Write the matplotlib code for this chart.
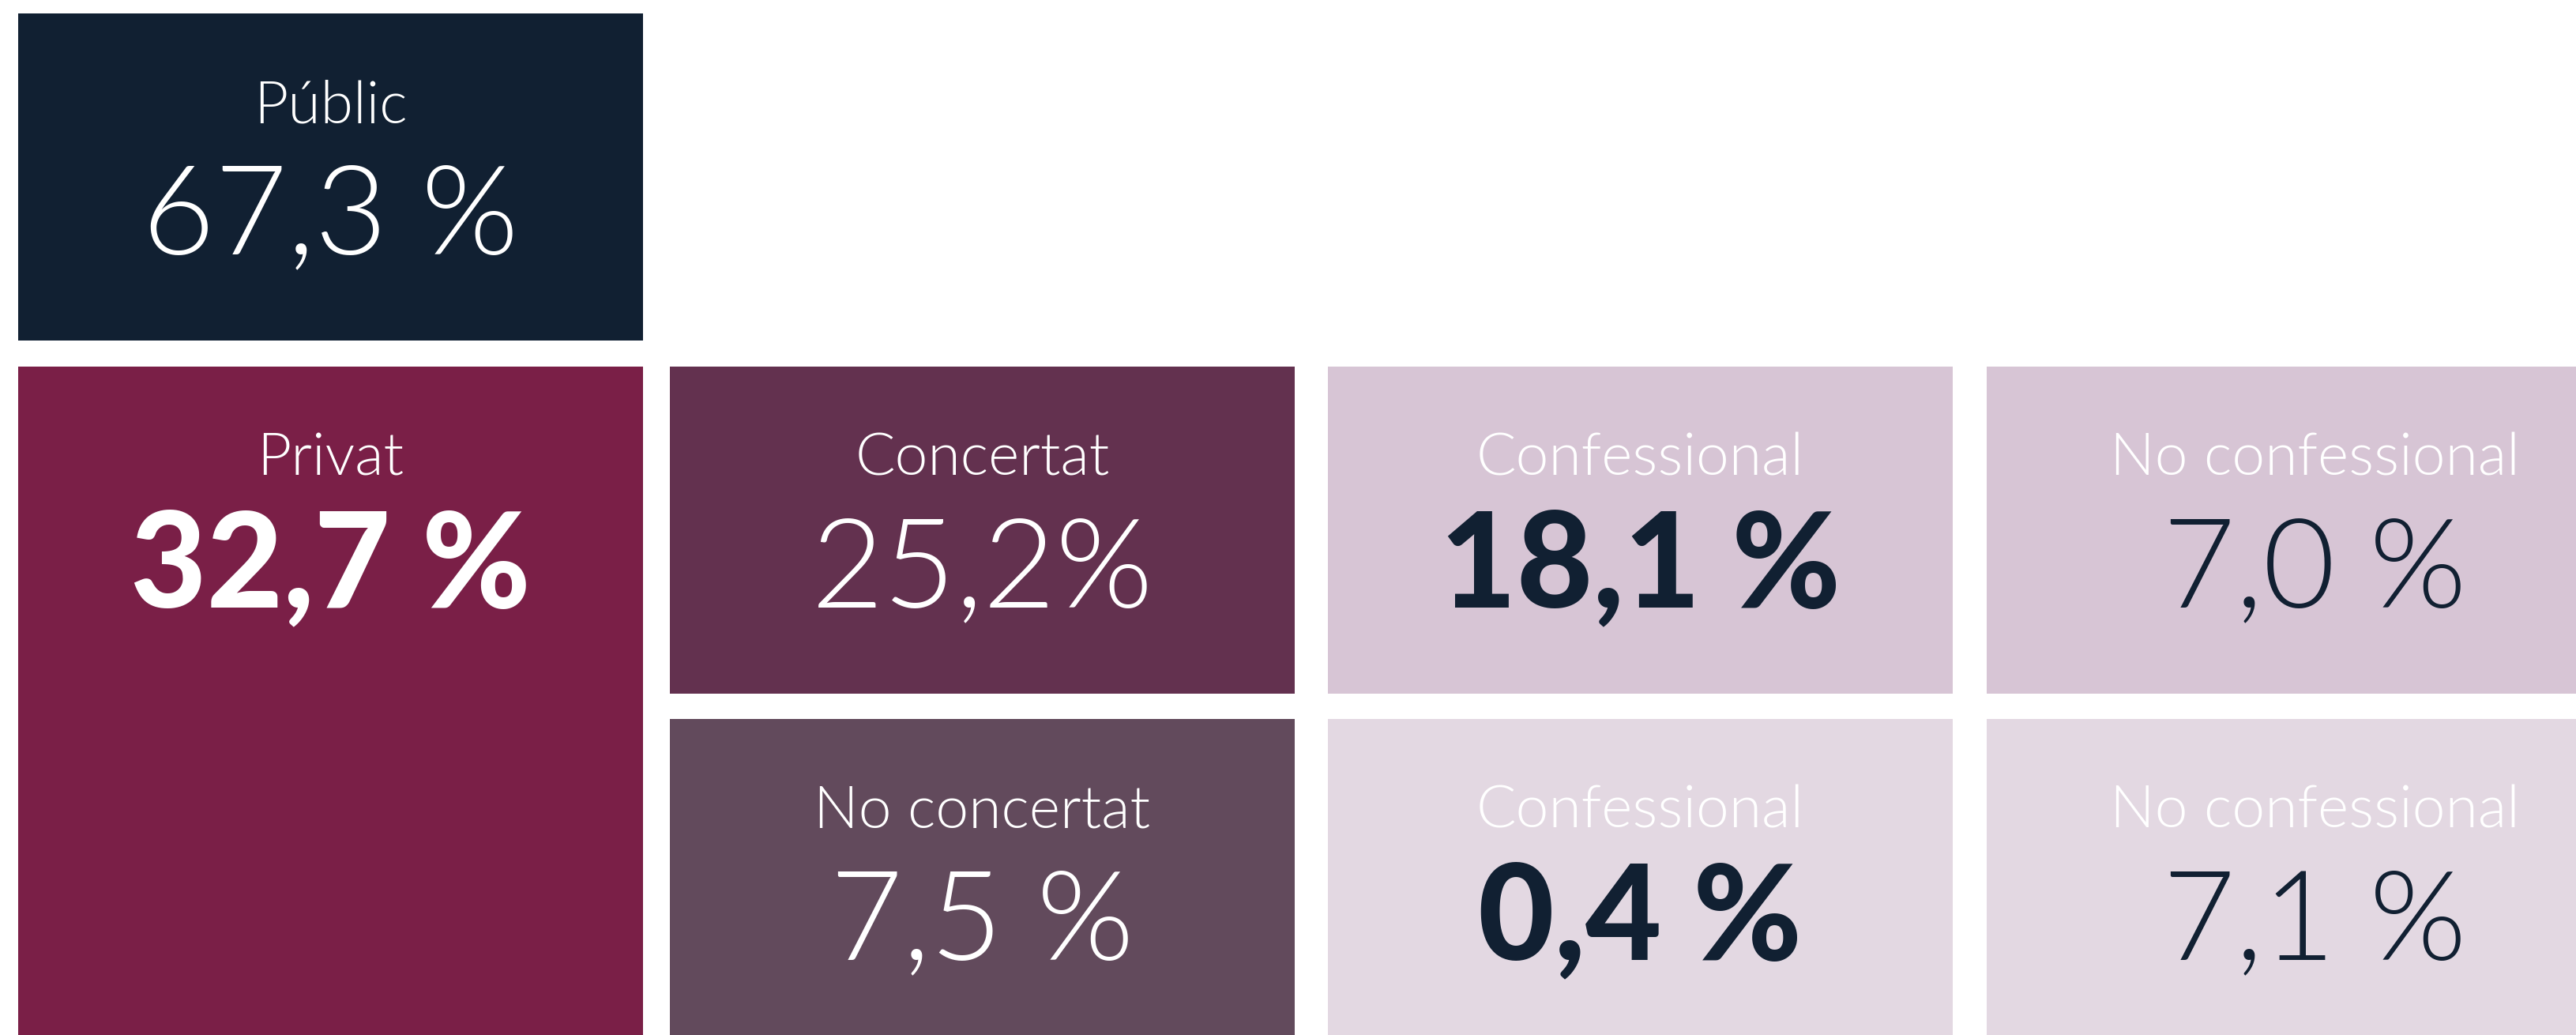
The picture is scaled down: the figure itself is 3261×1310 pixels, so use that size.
import matplotlib.pyplot as plt
from matplotlib.patches import Rectangle

# Dades del gràfic
labels = ['Públic', 'Privat', 'Concertat', 'No concertat',
          'Confessional', 'No confessional', 'Confessional', 'No confessional']
values = ['67,3 %', '32,7 %', '25,2%', '7,5 %', '18,1 %', '7,0 %', '0,4 %', '7,1 %']
bold = [False, True, False, False, True, False, True, False]

# Disposició: fila, columna, files ocupades
rows = [0, 1, 1, 2, 1, 1, 2, 2]
cols = [0, 0, 1, 1, 2, 3, 2, 3]
spans = [1, 2, 1, 1, 1, 1, 1, 1]
colors = ['#112032', '#7a1f47', '#63314f', '#624a5c',
          '#d7c5d5', '#d7c5d5', '#e3d8e2', '#e3d8e2']
num_colors = ['white', 'white', 'white', 'white',
              '#112032', '#112032', '#112032', '#112032']

W, H = 3262, 1310
col_x = [23, 848, 1681, 2515]
row_y = [17, 464, 910]
cell_w, cell_h = 791, 414
gap = 32

fig = plt.figure(figsize=(W / 100, H / 100), dpi=100)
ax = fig.add_axes([0, 0, 1, 1])
ax.set_xlim(0, W)
ax.set_ylim(H, 0)
ax.axis('off')

for i in range(len(labels)):
    x0 = col_x[cols[i]]
    y0 = row_y[rows[i]]
    h = cell_h * spans[i] + gap * (spans[i] - 1)
    if rows[i] + spans[i] == 3:
        h = H + 50 - y0
    ax.add_patch(Rectangle((x0, y0), cell_w, h, facecolor=colors[i], edgecolor='none'))

    cx = x0 + cell_w / 2
    if cols[i] == 3:
        cx += 20
    top = y0
    ax.text(cx, top + 138, labels[i], ha='center', va='baseline',
            fontsize=54, fontfamily='Lato', fontweight=300, color='white')
    ax.text(cx, top + 304, values[i], ha='center', va='baseline',
            fontsize=120 if bold[i] else 114, fontfamily='Lato',
            fontweight=900 if bold[i] else 300, color=num_colors[i])

fig.savefig('out.png', dpi=100, facecolor='white')
